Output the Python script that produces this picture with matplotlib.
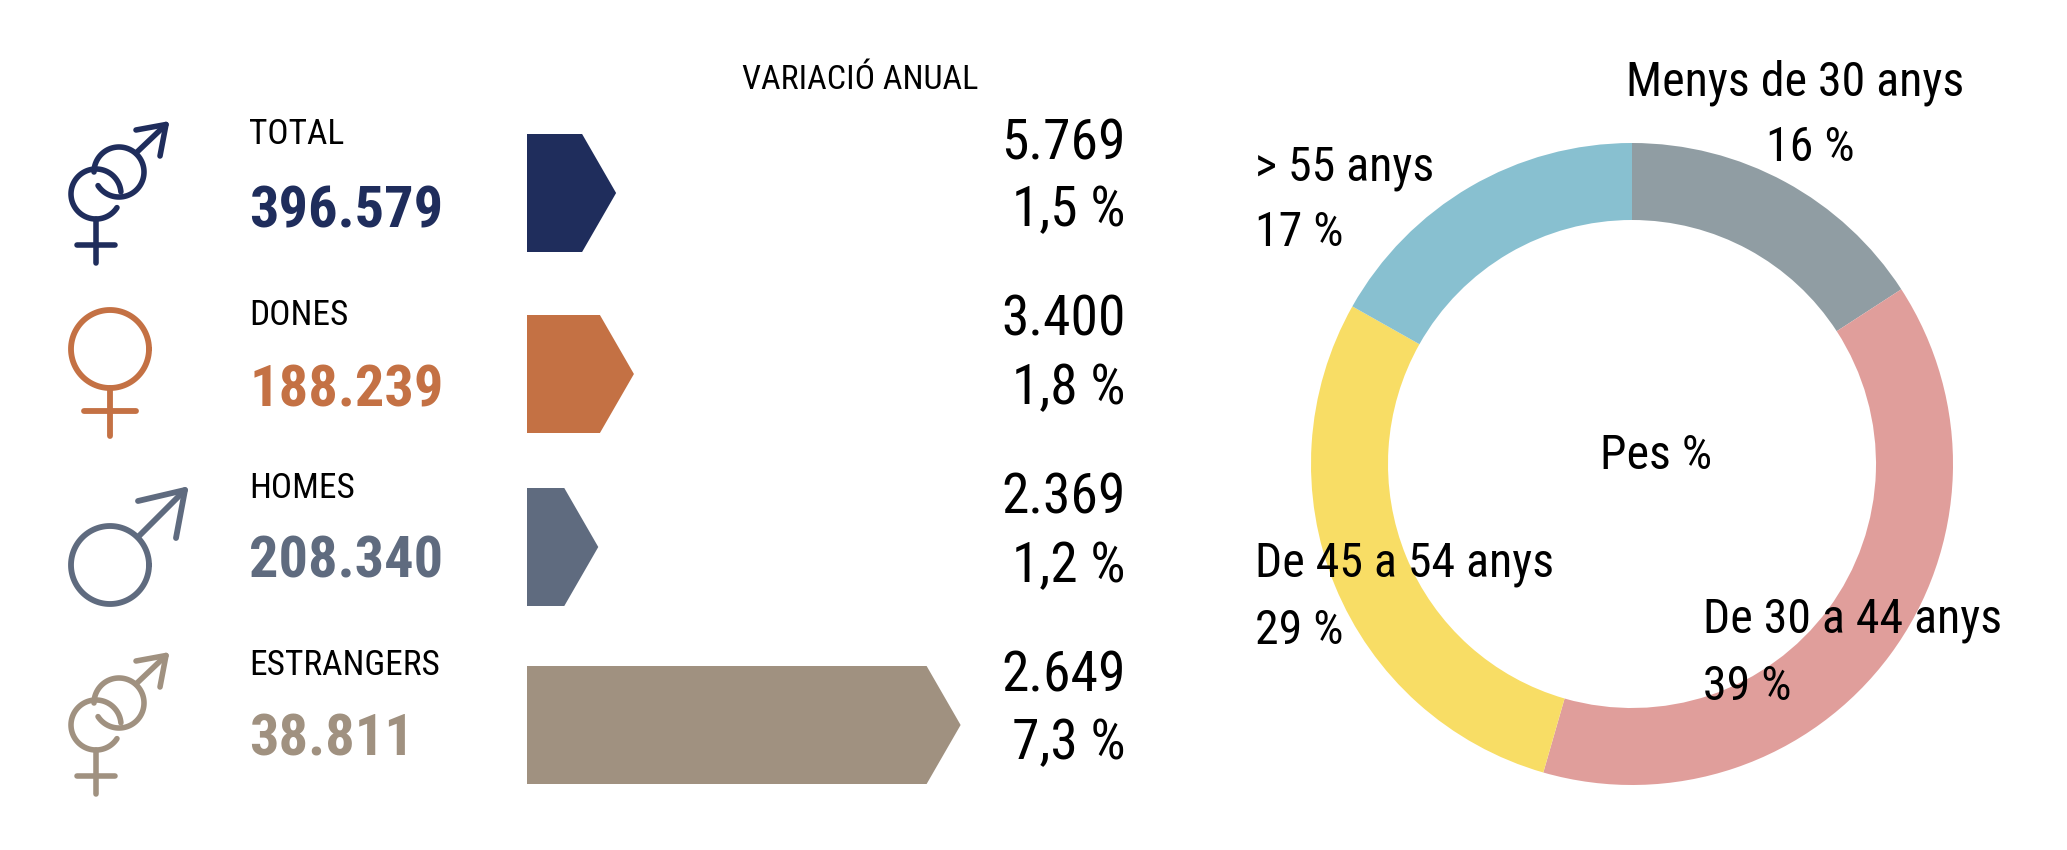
import numpy as np
import matplotlib
matplotlib.use('Agg')
import matplotlib.pyplot as plt
from matplotlib.patches import Polygon

plt.rcParams['font.family'] = ['Roboto Condensed', 'Archivo Narrow', 'IBM Plex Sans Condensed', 'Liberation Sans']
bold_font = ['Roboto Condensed', 'IBM Plex Sans Condensed', 'Barlow Condensed', 'Liberation Sans']

# data
categories = ['TOTAL', 'DONES', 'HOMES', 'ESTRANGERS']
totals = ['396.579', '188.239', '208.340', '38.811']
var_abs = ['5.769', '3.400', '2.369', '2.649']
var_pct = [1.5, 1.8, 1.2, 7.3]
colors = ['#1f2d5c', '#c47144', '#5f6b7f', '#a09180']

age_labels = ['Menys de 30 anys', 'De 30 a 44 anys', 'De 45 a 54 anys', '> 55 anys']
age_pct = [16, 39, 29, 17]
age_colors = ['#909da3', '#e09e9b', '#f8dd65', '#88c0d0']

W, H = 2067, 850
fig = plt.figure(figsize=(W / 100, H / 100), dpi=100)

# overlay in pixels for text and icons
ax = fig.add_axes([0, 0, 1, 1], zorder=5)
ax.set_xlim(0, W)
ax.set_ylim(H, 0)
ax.axis('off')
ax.patch.set_alpha(0)

# bars, x axis is the percentage
px_per_pct = 59.4
bar_left = 527
bar_mid = [193, 374, 547, 725]
bar_h = 118
notch = 34 / px_per_pct
ax_bar = fig.add_axes([bar_left / W, 0, max(var_pct) * px_per_pct / W, 1], zorder=1)
ax_bar.set_xlim(0, max(var_pct))
ax_bar.set_ylim(H, 0)
ax_bar.axis('off')
for v, mid, c in zip(var_pct, bar_mid, colors):
    top, bot = mid - bar_h / 2, mid + bar_h / 2
    ax_bar.add_patch(Polygon([(0, top), (v - notch, top), (v, mid), (v - notch, bot), (0, bot)],
                             closed=True, fc=c, ec='none', clip_on=False))

# donut
cx, cy, r_out, r_in = 1632, 464, 321, 244
ax_pie = fig.add_axes([(cx - r_out) / W, (H - cy - r_out) / H, 2 * r_out / W, 2 * r_out / H], zorder=1)
ax_pie.pie(age_pct, colors=age_colors, startangle=90, counterclock=False, radius=1,
           wedgeprops=dict(width=(r_out - r_in) / r_out, linewidth=0))
ax_pie.set_xlim(-1, 1)
ax_pie.set_ylim(-1, 1)


# icons
def arc(x0, y0, r, a0, a1, c, lw):
    t = np.radians(np.linspace(a0, a1, 120))
    ax.plot(x0 + r * np.cos(t), y0 - r * np.sin(t), color=c, lw=lw, solid_capstyle='round')


def seg(pts, c, lw):
    p = np.array(pts)
    ax.plot(p[:, 0], p[:, 1], color=c, lw=lw, solid_capstyle='round', solid_joinstyle='round')


def female(x0, y0, r, stem, bar_y, bar_w, c, lw, a0=0, a1=360):
    arc(x0, y0, r, a0, a1, c, lw)
    seg([(x0, y0 + r), (x0, stem)], c, lw)
    seg([(x0 - bar_w, bar_y), (x0 + bar_w, bar_y)], c, lw)


def male(x0, y0, r, start, tip, h1, h2, c, lw, a0=0, a1=360):
    arc(x0, y0, r, a0, a1, c, lw)
    seg([start, tip], c, lw)
    seg([h1, tip, h2], c, lw)


def both(dy, c):
    female(96, 194 + dy, 25, 263 + dy, 245 + dy, 19, c, 4, a0=5, a1=327)
    male(119, 172 + dy, 25, (136, 153 + dy), (166, 124.5 + dy), (136, 130 + dy), (160, 156 + dy),
         c, 4, a0=213, a1=540)


both(0, colors[0])
female(110, 349, 39, 436, 411, 26, colors[1], 4.2)
male(110, 565, 39, (138, 537), (185, 490), (138, 501), (176, 538), colors[2], 4.2)
both(531, colors[3])

# left texts
label_x = 249
label_base = [144, 325, 498, 675]
total_base = [227, 406, 578, 755]
for name, tot, lb, tb, c in zip(categories, totals, label_base, total_base, colors):
    ax.text(label_x, lb, name, fontsize=25.5, color='black', va='baseline', ha='left')
    ax.text(label_x, tb, tot, fontsize=42, color=c, fontweight=800, family=bold_font,
            va='baseline', ha='left')

ax.text(742, 89, 'VARIACIÓ ANUAL', fontsize=24.5, color='black', va='baseline', ha='left')

# variation numbers
abs_base = [159, 336, 514, 692]
pct_base = [226, 404, 582, 759]
for a, p, ya, yp in zip(var_abs, var_pct, abs_base, pct_base):
    ax.text(1126, ya, a, fontsize=40, color='black', va='baseline', ha='right')
    ax.text(1126, yp, f'{p:.1f} %'.replace('.', ','), fontsize=40, color='black', va='baseline', ha='right')

# donut labels
pie_text = 34.5
ax.text(1795, 95, age_labels[0], fontsize=pie_text, va='baseline', ha='center')
ax.text(1810, 161, f'{age_pct[0]} %', fontsize=pie_text, va='baseline', ha='center')
ax.text(1703, 632.5, age_labels[1], fontsize=pie_text, va='baseline', ha='left')
ax.text(1703, 700, f'{age_pct[1]} %', fontsize=pie_text, va='baseline', ha='left')
ax.text(1255, 576.5, age_labels[2], fontsize=pie_text, va='baseline', ha='left')
ax.text(1255, 644, f'{age_pct[2]} %', fontsize=pie_text, va='baseline', ha='left')
ax.text(1255, 180, age_labels[3], fontsize=pie_text, va='baseline', ha='left')
ax.text(1255, 246, f'{age_pct[3]} %', fontsize=pie_text, va='baseline', ha='left')
ax.text(1600, 469, 'Pes %', fontsize=pie_text, va='baseline', ha='left')

fig.savefig('out.png', dpi=100, facecolor='white')
